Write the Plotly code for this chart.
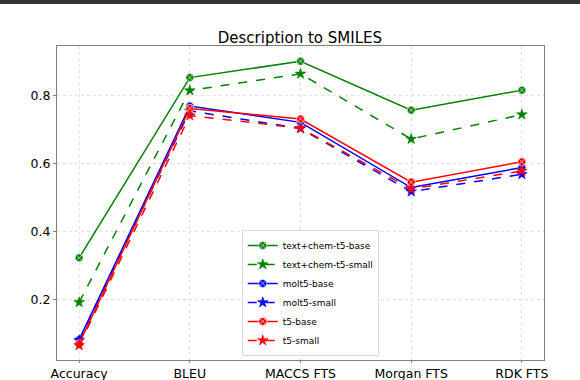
import plotly.graph_objects as go

metrics = ["Accuracy", "BLEU", "MACCS FTS", "Morgan FTS", "RDK FTS"]

textchem_base = [0.322, 0.853, 0.901, 0.757, 0.816]
textchem_small = [0.191, 0.815, 0.864, 0.672, 0.744]
molt5_base = [0.081, 0.769, 0.721, 0.529, 0.588]
molt5_small = [0.079, 0.755, 0.703, 0.517, 0.568]
t5_base = [0.069, 0.762, 0.731, 0.545, 0.605]
t5_small = [0.064, 0.741, 0.704, 0.525, 0.578]

series = [
    ("text+chem-t5-base", textchem_base, "green", "solid", "circle-x"),
    ("text+chem-t5-small", textchem_small, "green", "dash", "star"),
    ("molt5-base", molt5_base, "blue", "solid", "circle-x"),
    ("molt5-small", molt5_small, "blue", "dash", "star"),
    ("t5-base", t5_base, "red", "solid", "circle-x"),
    ("t5-small", t5_small, "red", "dash", "star"),
]

fig = go.Figure()
for name, vals, color, dash, symbol in series:
    fig.add_trace(
        go.Scatter(
            x=list(range(len(metrics))),
            y=vals,
            mode="lines+markers",
            name=name,
            line=dict(color=color, width=1.5, dash=dash),
            marker=dict(
                symbol=symbol,
                size=8,
                color=color,
                line=dict(color="white" if symbol == "circle-x" else color, width=0.6),
            ),
        )
    )

axis_style = dict(
    showgrid=True,
    gridcolor="#e2e2e2",
    griddash="dot",
    gridwidth=1,
    showline=True,
    linecolor="#808080",
    mirror=True,
    ticks="outside",
    tickcolor="#808080",
    zeroline=False,
    tickfont=dict(size=12.5, color="black"),
)

fig.update_xaxes(
    range=[-0.2, 4.2],
    tickvals=list(range(len(metrics))),
    ticktext=metrics,
    ticklen=2,
    **axis_style,
)
fig.update_yaxes(
    range=[0.021, 0.946],
    tickvals=[0.2, 0.4, 0.6, 0.8],
    ticktext=["0.2", "0.4", "0.6", "0.8"],
    ticklen=3,
    **axis_style,
)

fig.update_layout(
    width=580,
    height=380,
    margin=dict(l=57, r=36, t=46, b=20, autoexpand=False),
    paper_bgcolor="white",
    plot_bgcolor="white",
    font=dict(family="DejaVu Sans", color="black"),
    title=dict(
        text="Description to SMILES",
        x=0.517,
        xanchor="center",
        y=1 - 38 / 380,
        yanchor="middle",
        font=dict(size=15, color="black"),
    ),
    legend=dict(
        x=0.52,
        xanchor="center",
        y=0.013,
        yanchor="bottom",
        bgcolor="white",
        bordercolor="#dadada",
        borderwidth=1,
        font=dict(size=9),
        itemwidth=30,
        tracegroupgap=0,
    ),
    shapes=[
        dict(
            type="rect",
            xref="paper",
            yref="paper",
            x0=-0.2,
            x1=1.2,
            y0=1 + 42 / 314,
            y1=1 + 46 / 314,
            fillcolor="#333333",
            line=dict(width=0),
            layer="above",
        )
    ],
)

fig.write_html(
    "out.html",
    config={"displayModeBar": False},
    post_script="document.body.style.margin = '0';",
)
